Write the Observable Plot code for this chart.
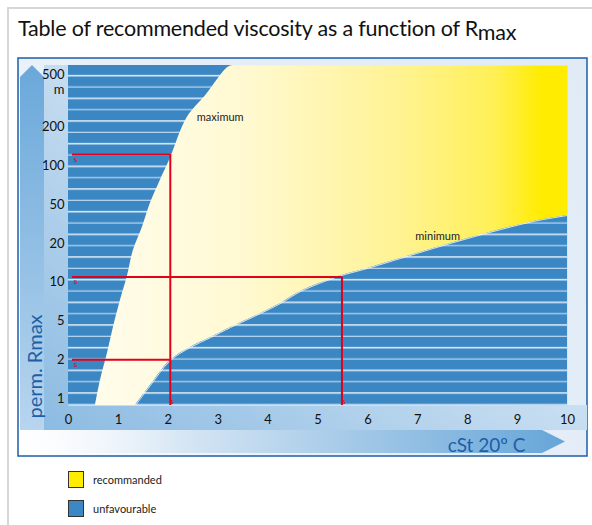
<!DOCTYPE html>
<html>
<head>
<meta charset="utf-8">
<script src="https://cdn.jsdelivr.net/npm/d3@7"></script>
<script src="https://cdn.jsdelivr.net/npm/@observablehq/plot@0.6"></script>
<style>
  body { margin: 0; background: #fff; font-family: Lato, "Open Sans", sans-serif; }
  #page { position: relative; width: 592px; height: 525px; overflow: hidden; }
  #outer { position: absolute; left: 7px; top: 7px; width: 600px; height: 600px;
           border-left: 2px solid #d6d6d6; border-top: 2px solid #d6d6d6; }
  #title { position: absolute; left: 18px; top: 15px; font-size: 21.5px; line-height: 26px;
           color: #111; white-space: nowrap; letter-spacing: -0.2px; }
  #title .sub { position: relative; top: 4px; }
  #chart { position: absolute; left: 0; top: 48px; }
  #legend { position: absolute; left: 68px; top: 471px; font-size: 11px; color: #222; }
  #legend .item { display: flex; align-items: center; height: 16px; margin-bottom: 13px; }
  #legend .sw { display: inline-block; width: 14px; height: 15px; border: 1px solid #333; margin-right: 9px; }
</style>
</head>
<body>
<div id="page">
  <div id="outer"></div>
  <div id="title">Table of recommended viscosity as a function of R<span class="sub">max</span></div>
  <div id="chart"></div>
  <div id="legend"></div>
</div>
<script>
// ---------- data ----------
const xTicks = [0, 1, 2, 3, 4, 5, 6, 7, 8, 9, 10];
const yTicks = [1, 2, 5, 10, 20, 50, 100, 200, 500];

// "maximum" boundary (viscosity cSt vs perm. Rmax)
const maxCurveX = [0.54, 0.64, 0.78, 0.90, 1.04, 1.18, 1.30, 1.48, 1.64, 1.84, 2.04, 2.38, 2.75, 3.19, 3.29];
const maxCurveR = [0.88, 1.38, 2.32, 4.29, 7.21, 11.08, 17.64, 29.2, 51.1, 77.2, 114.4, 252, 424, 822, 862];

// "minimum" boundary
const minCurveX = [1.34, 1.64, 2.04, 2.44, 2.85, 3.25, 3.85, 4.25, 4.65, 5.41, 5.99, 6.65, 7.31, 8.0, 8.66, 9.32, 10];
const minCurveR = [0.88, 1.26, 1.97, 2.67, 3.38, 4.29, 5.72, 6.84, 8.47, 11.08, 12.79, 15.29, 18.29, 22.5, 27.8, 33.7, 38.8];

// red reading guides
const guideR = [123, 11, 2];
const guideX = [2.04, 5.48, 2.04];
const guideStart = 0.08;
const rBottom = 0.88;
const rBelow = 0.5;

// curve labels
const curveLabels = ["maximum", "minimum"];
const curveLabelX = [2.57, 6.95];
const curveLabelR = [252, 23.6];

const legendLabels = ["recommanded", "unfavourable"];
const legendColors = ["#ffed00", "#3b88c5"];

// ---------- build tables ----------
const maxData = maxCurveX.map((x, i) => ({x, r: maxCurveR[i]}));
const minData = minCurveX.map((x, i) => ({x, r: minCurveR[i]}));
const guides = guideR.map((r, i) => ({r, x: guideX[i]}));
const verticals = guides.slice(0, 2);
const labels = curveLabels.map((t, i) => ({t, x: curveLabelX[i], r: curveLabelR[i]}));

const red = "#e2001a";
const W = 592, H = 414;
const mT = 17, mB = 57, mL = 68, mR = 25;

const plot = Plot.plot({
  width: W, height: H,
  marginTop: mT, marginBottom: mB, marginLeft: mL, marginRight: mR,
  style: {background: "none", fontFamily: "Lato, 'Open Sans', sans-serif", color: "#111", overflow: "visible"},
  x: {domain: [0, 10]},
  y: {type: "log", domain: yTicks, insetTop: 23, insetBottom: 7, axis: null},
  marks: [
    Plot.frame({fill: "url(#favGrad)"}),
    Plot.areaY(minData, {x: "x", y1: rBelow, y2: "r", fill: "url(#stripes)", curve: "catmull-rom", clip: true}),
    Plot.line(minData, {x: "x", y: "r", stroke: "#fff", strokeWidth: 1, strokeOpacity: 0.8, curve: "catmull-rom", clip: true}),
    Plot.areaX(maxData, {y: "r", x1: 0, x2: "x", fill: "url(#stripes)", curve: "catmull-rom", clip: true}),
    Plot.ruleY(guides, {y: "r", x1: guideStart, x2: "x", stroke: red, strokeWidth: 2}),
    Plot.ruleX(verticals, {x: "x", y1: "r", y2: rBottom, stroke: red, strokeWidth: 2, clip: true}),
    Plot.text(guides, {x: guideStart, y: "r", text: () => "s", fill: red, fontSize: 8, dx: 3, dy: 5}),
    Plot.text(verticals, {x: "x", y: rBottom, text: () => "s", fill: red, fontSize: 8, dx: 2, dy: -4}),
    Plot.text(labels, {x: "x", y: "r", text: "t", textAnchor: "start", fontSize: 11, fill: "#222"}),
    Plot.axisX(xTicks, {anchor: "bottom", tickSize: 0, tickPadding: 9, fontSize: 13, label: null, tickFormat: d => String(d)}),
    Plot.text(yTicks.filter(d => d !== 500), {y: d => d, frameAnchor: "left", text: d => String(d), textAnchor: "end", lineAnchor: "middle", fontSize: 13, dx: -4, fill: "#111"}),
    Plot.text([500], {y: d => d, frameAnchor: "left", text: () => "500\nm", textAnchor: "end", lineAnchor: "bottom", fontSize: 13, lineHeight: 1.15, dx: -4, dy: 5, fill: "#111"}),
    Plot.text(["perm. Rmax"], {frameAnchor: "bottom-left", text: d => d, rotate: -90, textAnchor: "start", lineAnchor: "middle", fontSize: 20, fill: "#1d5fa6", dx: -33, dy: 13}),
    Plot.text(["cSt 20º C"], {frameAnchor: "bottom-right", text: d => d, textAnchor: "end", lineAnchor: "middle", fontSize: 19, fill: "#1d5fa6", dx: -42, dy: 40})
  ]
});

document.getElementById("chart").appendChild(plot);

// ---------- defs & panel decoration ----------
const svg = d3.select(plot);
const xs = plot.scale("x");
const x0 = xs.apply(0), x10 = xs.apply(10);
const frameTop = mT, frameBottom = H - mB;
const period = (frameBottom - frameTop) / 15;

const defs = svg.insert("defs", ":first-child");

const fav = defs.append("linearGradient").attr("id", "favGrad").attr("gradientUnits", "userSpaceOnUse")
  .attr("x1", x0).attr("x2", x10).attr("y1", 0).attr("y2", 0);
[[0, "#fffdf0"], [0.35, "#fff9d2"], [0.65, "#fff396"], [0.85, "#fff058"], [0.95, "#ffec00"], [1, "#ffec00"]]
  .forEach(([o, c]) => fav.append("stop").attr("offset", o).attr("stop-color", c));

const pat = defs.append("pattern").attr("id", "stripes").attr("patternUnits", "userSpaceOnUse")
  .attr("x", 0).attr("y", frameTop).attr("width", W).attr("height", period);
pat.append("rect").attr("width", W).attr("height", period).attr("fill", "#3a87c4");
pat.append("rect").attr("y", period / 2 - 1.3).attr("width", W).attr("height", 1.3).attr("fill", "#ffffff");
pat.append("rect").attr("y", period - 1.3).attr("width", W).attr("height", 1.3).attr("fill", "#b3d1ec");

const pg = defs.append("linearGradient").attr("id", "panelGrad").attr("gradientUnits", "userSpaceOnUse")
  .attr("x1", 18).attr("y1", 408).attr("x2", 587).attr("y2", 10);
[[0, "#ffffff"], [0.35, "#e8f0f9"], [1, "#e0ebf6"]].forEach(([o, c]) => pg.append("stop").attr("offset", o).attr("stop-color", c));

const bg = defs.append("linearGradient").attr("id", "bandGrad").attr("gradientUnits", "userSpaceOnUse")
  .attr("x1", 44).attr("y1", 382).attr("x2", 300).attr("y2", frameTop);
[[0, "#8cbbe2"], [1, "#e0ecf7"]].forEach(([o, c]) => bg.append("stop").attr("offset", o).attr("stop-color", c));

const yg = defs.append("linearGradient").attr("id", "yArrowGrad").attr("x1", 0).attr("y1", 0).attr("x2", 0).attr("y2", 1);
[[0, "#6aa8da"], [1, "#b8d5ee"]].forEach(([o, c]) => yg.append("stop").attr("offset", o).attr("stop-color", c));

const xg = defs.append("linearGradient").attr("id", "xArrowGrad").attr("x1", 0).attr("y1", 0).attr("x2", 1).attr("y2", 0);
[[0, "#ffffff", 0], [0.3, "#d6e6f4", 1], [1, "#66a5d8", 1]].forEach(([o, c, a]) => xg.append("stop").attr("offset", o).attr("stop-color", c).attr("stop-opacity", a));

const deco = svg.insert("g", "defs + *");
deco.append("rect").attr("x", 18).attr("y", 10).attr("width", 569).attr("height", 398)
  .attr("fill", "url(#panelGrad)").attr("stroke", "#1d5ea8").attr("stroke-width", 1.5);
deco.append("path").attr("d", `M44,${frameTop}H${mL}V${frameBottom}H587V382H44Z`).attr("fill", "url(#bandGrad)");
deco.append("path").attr("d", `M32,${frameTop}L44,${frameTop + 12}V382H20V${frameTop + 12}Z`).attr("fill", "url(#yArrowGrad)");
deco.append("path").attr("d", `M19,382H542L565,393.5L542,405H19Z`).attr("fill", "url(#xArrowGrad)");

// ---------- legend ----------
const leg = d3.select("#legend");
legendLabels.forEach((t, i) => {
  const it = leg.append("div").attr("class", "item");
  it.append("span").attr("class", "sw").style("background", legendColors[i]);
  it.append("span").text(t);
});
</script>
</body>
</html>
